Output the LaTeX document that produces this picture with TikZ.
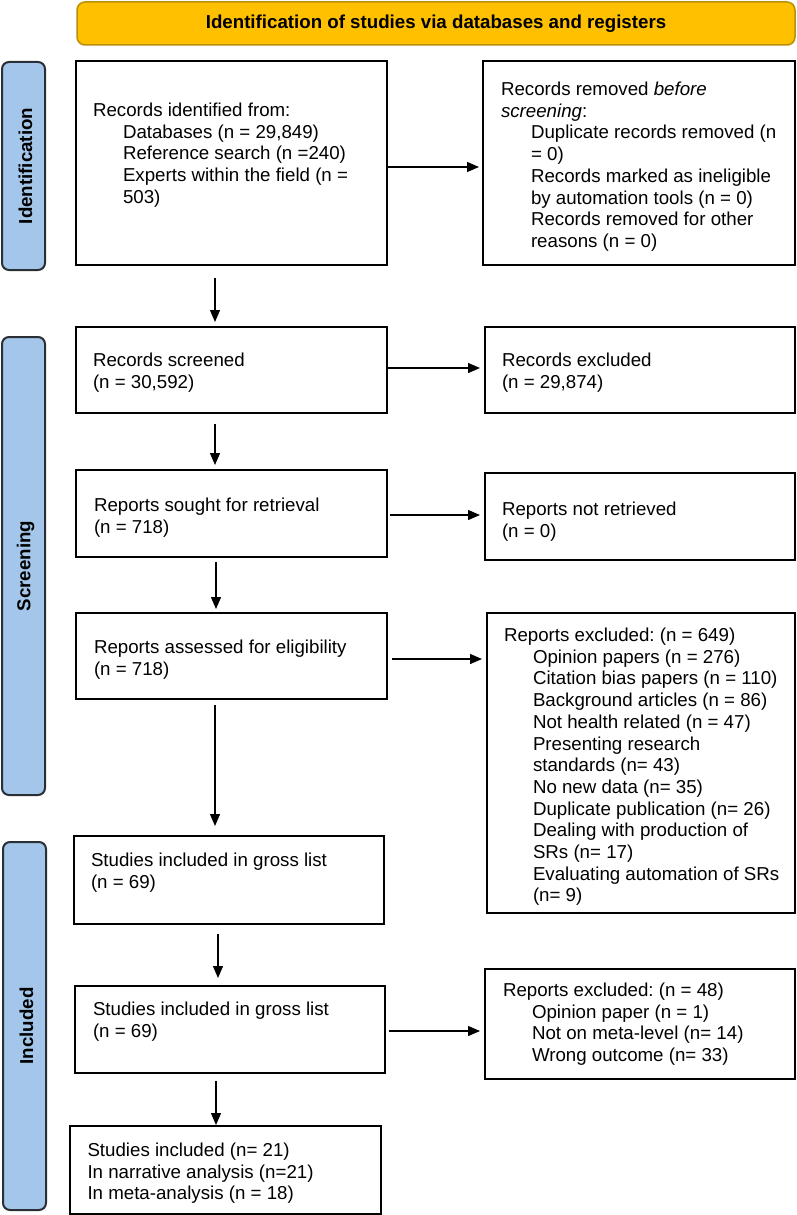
\documentclass[tikz,border=0pt]{standalone}
\usepackage{fontspec}
\setmainfont{Liberation Sans}
\usetikzlibrary{arrows.meta,calc}
\definecolor{gold}{HTML}{FFC000}
\definecolor{golddark}{HTML}{B8900A}
\definecolor{barblue}{HTML}{A3C6EA}
\definecolor{bardark}{HTML}{2A2F36}
\frenchspacing
\begin{document}
\begin{tikzpicture}[x=1pt,y=-1pt,
  box/.style={draw=black, line width=2pt, fill=white, rectangle, inner sep=0pt},
  txt/.style={anchor=north west, inner sep=0pt, outer sep=0pt, align=left, font=\frenchspacing\fontsize{18.7}{21.7}\selectfont},
  sidebar/.style={draw=bardark, line width=2pt, fill=barblue, rounded corners=7pt, rectangle, inner sep=0pt},
  sidelabel/.style={rotate=90, font=\bfseries\fontsize{18.7}{21.7}\selectfont},
  arr/.style={line width=1.3pt, -{Triangle[length=12pt,width=10pt]}}
]
\useasboundingbox (0,0) rectangle (797,1215);
\fill[white] (0,0) rectangle (797,1215);

% banner
\node[draw=golddark, line width=1.5pt, fill=gold, rounded corners=8pt, minimum width=718pt, minimum height=43pt, inner sep=0pt, font=\bfseries\fontsize{18.7}{21.7}\selectfont] (banner) at (436,23.5) {Identification of studies via databases and registers};

% side bars
\node[sidebar, minimum width=43pt, minimum height=208pt] (barI) at (23.5,166) {};
\node[sidelabel] (labI) at ([xshift=2pt]barI.center) {Identification};
\node[sidebar, minimum width=43pt, minimum height=458pt] (barS) at (23.5,566) {};
\node[sidelabel] (labS) at ([xshift=2pt]barS.center) {Screening};
\node[sidebar, minimum width=43pt, minimum height=368pt] (barU) at (24.5,1026) {};
\node[sidelabel] (labU) at ([xshift=2pt]barU.center) {Included};

% boxes
\node[box, minimum width=311pt, minimum height=204pt] (A) at (231.5,163) {};
\node[box, minimum width=312pt, minimum height=204pt] (B) at (639,163) {};
\node[box, minimum width=311pt, minimum height=86pt] (C) at (231.5,370) {};
\node[box, minimum width=310pt, minimum height=86pt] (D) at (640,370) {};
\node[box, minimum width=311pt, minimum height=87pt] (E) at (231.5,513.5) {};
\node[box, minimum width=310pt, minimum height=87pt] (F) at (640,516.5) {};
\node[box, minimum width=311pt, minimum height=86pt] (G) at (231.5,656) {};
\node[box, minimum width=308pt, minimum height=300pt] (H) at (641,763) {};
\node[box, minimum width=310pt, minimum height=88pt] (I) at (229,880) {};
\node[box, minimum width=310pt, minimum height=87pt] (J) at (230,1029.5) {};
\node[box, minimum width=310pt, minimum height=110pt] (K) at (640,1024) {};
\node[box, minimum width=311pt, minimum height=88pt] (L) at (225.5,1170) {};

% texts
\node[txt] (tA) at (93,101.5) {\rule{0pt}{15pt}Records identified from:\\
\hspace*{30pt}Databases (n = 29,849)\\
\hspace*{30pt}Reference search (n =240)\\
\hspace*{30pt}Experts within the field (n =\\
\hspace*{30pt}503)};
\node[txt] (tB) at (501,80.5) {\rule{0pt}{15pt}Records removed \textit{before}\\
\textit{screening}:\\
\hspace*{30pt}Duplicate records removed (n\\
\hspace*{30pt}= 0)\\
\hspace*{30pt}Records marked as ineligible\\
\hspace*{30pt}by automation tools (n = 0)\\
\hspace*{30pt}Records removed for other\\
\hspace*{30pt}reasons (n = 0)};
\node[txt] (tC) at (93,351.5) {\rule{0pt}{15pt}Records screened\\(n = 30,592)};
\node[txt] (tD) at (502,351.5) {\rule{0pt}{15pt}Records excluded\\(n = 29,874)};
\node[txt] (tE) at (94,496.5) {\rule{0pt}{15pt}Reports sought for retrieval\\(n = 718)};
\node[txt] (tF) at (502,500.5) {\rule{0pt}{15pt}Reports not retrieved\\(n = 0)};
\node[txt] (tG) at (94,638.5) {\rule{0pt}{15pt}Reports assessed for eligibility\\(n = 718)};
\node[txt] (tH) at (504,626.5) {\rule{0pt}{15pt}Reports excluded: (n = 649)\\
\hspace*{29pt}Opinion papers (n = 276)\\
\hspace*{29pt}Citation bias papers (n = 110)\\
\hspace*{29pt}Background articles (n = 86)\\
\hspace*{29pt}Not health related (n = 47)\\
\hspace*{29pt}Presenting research\\
\hspace*{29pt}standards (n= 43)\\
\hspace*{29pt}No new data (n= 35)\\
\hspace*{29pt}Duplicate publication (n= 26)\\
\hspace*{29pt}Dealing with production of\\
\hspace*{29pt}SRs (n= 17)\\
\hspace*{29pt}Evaluating automation of SRs\\
\hspace*{29pt}(n= 9)};
\node[txt] (tI) at (91,851.5) {\rule{0pt}{15pt}Studies included in gross list\\(n = 69)};
\node[txt] (tJ) at (93,1000.5) {\rule{0pt}{15pt}Studies included in gross list\\(n = 69)};
\node[txt] (tK) at (503,981.5) {\rule{0pt}{15pt}Reports excluded: (n = 48)\\
\hspace*{29pt}Opinion paper (n = 1)\\
\hspace*{29pt}Not on meta-level (n= 14)\\
\hspace*{29pt}Wrong outcome (n= 33)};
\node[txt] (tL) at (87.5,1141.5) {\rule{0pt}{15pt}Studies included (n= 21)\\In narrative analysis (n=21)\\In meta-analysis (n = 18)};

% horizontal arrows
\draw[arr, shorten >=3pt] ([yshift=-4pt]A.east) -- ([yshift=-4pt]A.east -| B.west);
\draw[arr, shorten >=4pt] ([yshift=2pt]C.east) -- ([yshift=2pt]C.east -| D.west);
\draw[arr, shorten >=4pt, shorten <=2pt] ([yshift=-1.5pt]E.east) -- ([yshift=-1.5pt]E.east -| F.west);
\draw[arr, shorten >=4pt, shorten <=4pt] ([yshift=-3pt]G.east) -- ([yshift=-3pt]G.east -| H.west);
\draw[arr, shorten >=4pt, shorten <=3pt] ([yshift=-1.5pt]J.east) -- ([yshift=-1.5pt]J.east -| K.west);

% vertical arrows
\draw[arr, shorten <=12pt, shorten >=4pt] ([xshift=-16.5pt]A.south) -- ([xshift=-16.5pt]A.south |- C.north);
\draw[arr, shorten <=10pt, shorten >=4pt] ([xshift=-16.5pt]C.south) -- ([xshift=-16.5pt]C.south |- E.north);
\draw[arr, shorten <=4pt, shorten >=3pt] ([xshift=-15.5pt]E.south) -- ([xshift=-15.5pt]E.south |- G.north);
\draw[arr, shorten <=5pt, shorten >=9pt] ([xshift=-16.5pt]G.south) -- ([xshift=-16.5pt]G.south |- I.north);
\draw[arr, shorten <=9pt, shorten >=7pt] ([xshift=-11pt]I.south) -- ([xshift=-11pt]I.south |- J.north);
\draw[arr, shorten <=7pt, shorten >=0pt] ([xshift=-14pt]J.south) -- ([xshift=-14pt]J.south |- L.north);
\end{tikzpicture}
\end{document}
